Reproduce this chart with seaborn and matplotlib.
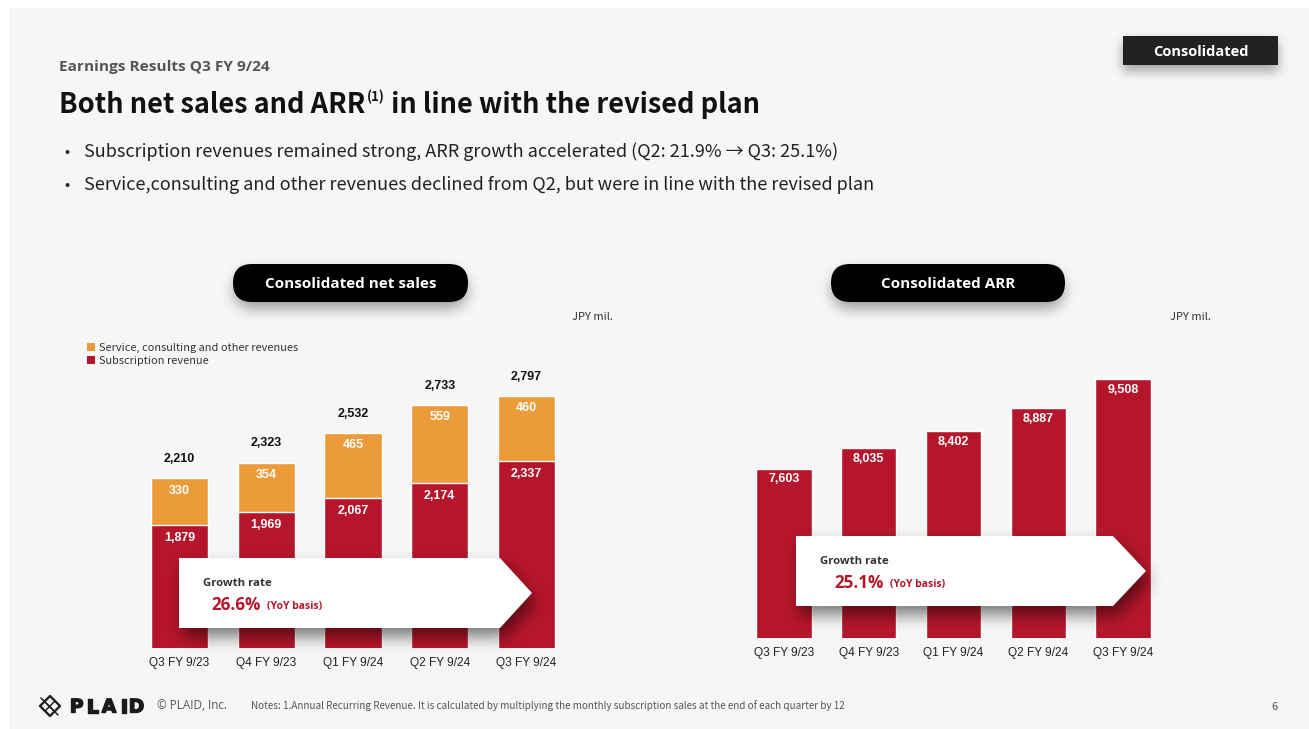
import numpy as np
import matplotlib
matplotlib.use("Agg")
import matplotlib.pyplot as plt
import matplotlib.patheffects as pe
from matplotlib.patches import Rectangle, Polygon, FancyBboxPatch
from matplotlib.path import Path
from matplotlib.lines import Line2D
import seaborn as sns

# ---- data (JPY mil.) ----
quarters = ["Q3 FY 9/23", "Q4 FY 9/23", "Q1 FY 9/24", "Q2 FY 9/24", "Q3 FY 9/24"]
subscription = [1879, 1969, 2067, 2174, 2337]
service = [330, 354, 465, 559, 460]
net_sales_total = [2210, 2323, 2532, 2733, 2797]
arr = [7603, 8035, 8402, 8887, 9508]
net_sales_growth = "26.6%"
arr_growth = "25.1%"

RED = "#b6162b"
ORANGE = "#eb9b38"
SLIDE = "#f6f6f6"
W, H = 1309, 729

sns.set_style("white")
plt.rcParams["font.family"] = ["Noto Sans CJK JP", "DejaVu Sans"]

fig = plt.figure(figsize=(W / 100, H / 100), dpi=100)
fig.patch.set_facecolor("white")
fig.patches.append(Rectangle((9 / W, 0), 1, 1 - 8 / H, transform=fig.transFigure,
                             facecolor=SLIDE, edgecolor="none", zorder=-10))


def px_axes(left, right, top, bottom):
    return fig.add_axes([left / W, 1 - bottom / H, (right - left) / W, (bottom - top) / H])


def value_fmt(v):
    return f"{v:,}"


# ---- consolidated net sales (stacked) ----
ax1 = px_axes(136.1, 569.9, 300, 648)
ax1.set_facecolor("none")
sns.barplot(x=quarters, y=net_sales_total, color=ORANGE, saturation=1, width=0.66,
            ax=ax1, zorder=2)
sns.barplot(x=quarters, y=subscription, color=RED, saturation=1, width=0.66,
            ax=ax1, zorder=3)
ax1.set_xlim(-0.5, 4.5)
ax1.set_ylim(1000, 3482)
for i in range(len(quarters)):
    ax1.annotate(value_fmt(net_sales_total[i]), (i, net_sales_total[i]), xytext=(0, 13.7),
                 textcoords="offset points", ha="center", va="center",
                 fontsize=9, fontweight="bold", family="Liberation Sans", color="#111")
    ax1.annotate(value_fmt(service[i]), (i, net_sales_total[i]), xytext=(0, -8.8),
                 textcoords="offset points", ha="center", va="center",
                 fontsize=9, fontweight="bold", family="Liberation Sans", color="white", zorder=5)
    ax1.annotate(value_fmt(subscription[i]), (i, subscription[i]), xytext=(0, -9.4),
                 textcoords="offset points", ha="center", va="center",
                 fontsize=9, fontweight="bold", family="Liberation Sans", color="white", zorder=5)

# ---- consolidated ARR ----
ax2 = px_axes(741.6, 1165.4, 300, 637.7)
ax2.set_facecolor("none")
sns.barplot(x=quarters, y=arr, color=RED, saturation=1, width=0.65, ax=ax2, zorder=2)
ax2.set_xlim(-0.5, 4.5)
ax2.set_ylim(4000, 11200)
for i, v in enumerate(arr):
    ax2.annotate(value_fmt(v), (i, v), xytext=(0, -7.7), textcoords="offset points",
                 ha="center", va="center", fontsize=9, fontweight="bold",
                 family="Liberation Sans", color="white", zorder=5)

for ax in (ax1, ax2):
    sns.despine(ax=ax, left=True, bottom=True)
    ax.set_yticks([])
    ax.set_xlabel("")
    ax.set_ylabel("")
    ax.tick_params(axis="x", length=0, pad=6.6, labelsize=8.6, labelcolor="#222")
    for lab in ax.get_xticklabels():
        lab.set_family("Liberation Sans")
    ax.grid(False)

# ---- overlay in pixel coordinates ----
ov = fig.add_axes([0, 0, 1, 1], zorder=10)
ov.set_facecolor("none")
ov.axis("off")
ov.set_xlim(0, W)
ov.set_ylim(H, 0)


def blur1d(a, r, axis):
    a = np.moveaxis(a, axis, -1)
    pad = [(0, 0)] * (a.ndim - 1) + [(r + 1, r)]
    c = np.cumsum(np.pad(a, pad), axis=-1)
    out = (c[..., 2 * r + 1:] - c[..., :-2 * r - 1]) / (2 * r + 1)
    return np.moveaxis(out, -1, axis)


def soft_shadow(pts, dx, dy, blur, alpha, z):
    pts = np.asarray(pts, float) + [dx, dy]
    m = 4 * blur
    x0, y0 = np.floor(pts.min(0)) - m
    x1, y1 = np.ceil(pts.max(0)) + m
    xs = np.arange(x0, x1) + 0.5
    ys = np.arange(y0, y1) + 0.5
    gx, gy = np.meshgrid(xs, ys)
    mask = Path(pts).contains_points(np.c_[gx.ravel(), gy.ravel()]).reshape(gx.shape).astype(float)
    for _ in range(3):
        mask = blur1d(mask, blur, 0)
        mask = blur1d(mask, blur, 1)
    rgba = np.zeros(mask.shape + (4,))
    rgba[..., 3] = mask * alpha
    ov.imshow(rgba, extent=(x0, x1, y1, y0), zorder=z, interpolation="bilinear")


def rounded_pts(x0, y0, x1, y1, r, n=12):
    pts = []
    for cx, cy, a0 in ((x1 - r, y0 + r, -90), (x1 - r, y1 - r, 0),
                       (x0 + r, y1 - r, 90), (x0 + r, y0 + r, 180)):
        for t in np.linspace(a0, a0 + 90, n):
            pts.append((cx + r * np.cos(np.radians(t)), cy + r * np.sin(np.radians(t))))
    return pts


renderer = fig.canvas.get_renderer()

# header texts
ov.text(59, 67, "Earnings Results Q3 FY 9/24", fontsize=11.1, fontweight="bold",
        family="Open Sans", color="#555", va="center", ha="left")
t1 = ov.text(59, 104.5, "Both net sales and ARR", fontsize=19.6, fontweight="bold",
             color="#111", va="center", ha="left")
x_end = t1.get_window_extent(renderer).x1
t2 = ov.text(x_end + 1, 97, "(1)", fontsize=9.5, fontweight="bold", color="#111",
             va="center", ha="left")
x_end = t2.get_window_extent(renderer).x1
ov.text(x_end + 1, 104.5, " in line with the revised plan", fontsize=19.6, fontweight="bold",
        color="#111", va="center", ha="left")

bullets = ["Subscription revenues remained strong, ARR growth accelerated (Q2: 21.9% \u2192 Q3: 25.1%)",
           "Service,consulting and other revenues declined from Q2, but were in line with the revised plan"]
for yy, txt in zip((152, 185), bullets):
    ov.text(67, yy, "\u2022", fontsize=11, color="#222", va="center", ha="center")
    ov.text(84, yy, txt, fontsize=13.0, color="#222", va="center", ha="left")

# consolidated badge
soft_shadow([(1123, 36), (1278, 36), (1278, 65), (1123, 65)], 0, 6, 5, 0.35, 1)
ov.add_patch(Rectangle((1123, 36), 155, 29, facecolor="#222", edgecolor="none", zorder=2))
ov.text(1200.5, 52, "Consolidated", fontsize=10.5, fontweight="bold", family="Open Sans",
        color="white", va="center", ha="center", zorder=3)

# chart title pills
for (px0, px1, label) in ((233, 468, "Consolidated net sales"), (831, 1065, "Consolidated ARR")):
    soft_shadow(rounded_pts(px0, 264, px1, 302, 19), 0, 7, 6, 0.35, 1)
    ov.add_patch(FancyBboxPatch((px0, 264), px1 - px0, 38,
                                boxstyle="round,pad=0,rounding_size=19",
                                facecolor="black", edgecolor="none", zorder=2))
    ov.text((px0 + px1) / 2, 284, label, fontsize=11, fontweight="bold", family="Open Sans",
            color="white", va="center", ha="center", zorder=3)

for xx in (592, 1190):
    ov.text(xx, 317, "JPY mil.", fontsize=8, color="#333", va="center", ha="center")

# legend
for yy, col, lab in ((347, ORANGE, "Service, consulting and other revenues"),
                     (360, RED, "Subscription revenue")):
    ov.add_patch(Rectangle((87, yy - 4.5), 8, 8, facecolor=col, edgecolor="none"))
    ov.text(99, yy + 1, lab, fontsize=7.9, color="#333", va="center", ha="left")

# growth-rate arrows
arrows = [
    ((179, 558, 500, 628, 532), (203, 583), (211, 605), net_sales_growth),
    ((796, 536, 1113, 606, 1146), (820, 561), (834, 583), arr_growth),
]
for (x0, y0, x1, y1, tip), gpos, vpos, val in arrows:
    pent = [(x0, y0), (x1, y0), (tip, (y0 + y1) / 2), (x1, y1), (x0, y1)]
    soft_shadow(pent, 4, 9, 7, 0.5, 1)
    ov.add_patch(Polygon(pent, closed=True, facecolor="white", edgecolor="none", zorder=2))
    ov.text(*gpos, "Growth rate", fontsize=8.2, fontweight="bold", family="Open Sans",
            color="#333", va="center", ha="left", zorder=3)
    tv = ov.text(*vpos, val, fontsize=12.3, fontweight="bold", family="Open Sans",
                 color=RED, va="center", ha="left", zorder=3)
    xv = tv.get_window_extent(renderer).x1
    ov.text(xv + 7, vpos[1] + 2, "(YoY basis)", fontsize=7.5, fontweight="bold",
            family="Open Sans", color=RED, va="center", ha="left", zorder=3)

# footer: logo mark
cx, cy, r = 50, 706, 10
diamond = [(cx, cy - r), (cx + r, cy), (cx, cy + r), (cx - r, cy)]
ov.add_patch(Polygon(diamond, closed=True, facecolor="none", edgecolor="#222", lw=1.7,
                     joinstyle="round", zorder=3))
for k in (-0.35, 0.0, 0.35):
    ov.add_line(Line2D([cx - r * 0.55 + k * r, cx + r * 0.45 + k * r],
                       [cy - r * 0.45 + k * r, cy + r * 0.55 + k * r],
                       color="#222", lw=1.1, zorder=3))
ov.add_line(Line2D([cx - r * 0.5, cx + r * 0.5], [cy + r * 0.5, cy - r * 0.5],
                   color="#222", lw=1.1, zorder=3))
for ch, xx in zip("PLAID", (76.7, 92.5, 109.0, 124.0, 136.5)):
    ov.text(xx, 707, ch, fontsize=13.5, fontweight="bold", family="DejaVu Sans",
            color="#1a1a1a", va="center", ha="center",
            path_effects=[pe.withStroke(linewidth=1.0, foreground="#1a1a1a")])

ov.text(157, 705.5, "\u00a9 PLAID, Inc.", fontsize=8.4, family="Open Sans", color="#555",
        va="center", ha="left")
ov.text(251, 705.5, "Notes: 1.Annual Recurring Revenue. It is calculated by multiplying the monthly "
        "subscription sales at the end of each quarter by 12",
        fontsize=7.17, color="#555", va="center", ha="left")
ov.text(1275, 707, "6", fontsize=8, color="#555", va="center", ha="center")

ov.set_xlim(0, W)
ov.set_ylim(H, 0)
ov.set_aspect("auto")

fig.savefig("out.png", dpi=100, facecolor=fig.get_facecolor())
